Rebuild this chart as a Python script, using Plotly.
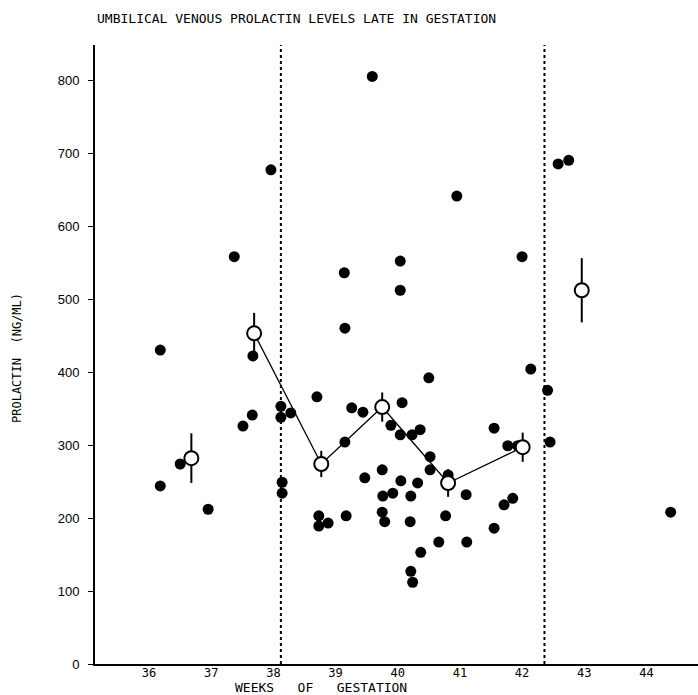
import plotly.graph_objects as go

# Individual umbilical venous prolactin values (weeks, ng/ml)
weeks = [36.18, 36.18, 36.50, 36.95, 37.37, 37.51, 37.66, 37.67, 37.96, 38.12,
         38.12, 38.28, 38.14, 38.14, 38.70, 39.15, 39.26, 39.15, 38.73, 38.73,
         38.88, 39.17, 39.14, 39.59, 40.04, 40.04, 40.95, 40.50, 39.44, 40.07,
         39.89, 40.04, 40.23, 40.36, 40.52, 40.52, 40.81, 39.75, 39.47, 40.05,
         40.32, 39.76, 39.92, 40.21, 41.10, 39.75, 39.79, 40.20, 40.77, 41.55,
         40.66, 41.11, 40.37, 40.21, 40.24, 41.55, 42.14, 42.41, 42.45, 41.77,
         41.93, 41.71, 41.85, 42.58, 42.75, 42.00, 44.39]
prolactin = [430, 244, 274, 212, 558, 326, 341, 422, 677, 353,
             338, 344, 249, 234, 366, 304, 351, 460, 203, 189,
             193, 203, 536, 805, 552, 512, 641, 392, 345, 358,
             327, 314, 314, 321, 284, 266, 259, 266, 255, 251,
             248, 230, 234, 230, 232, 208, 195, 195, 203, 186,
             167, 167, 153, 127, 112, 323, 404, 375, 304, 299,
             299, 218, 227, 685, 690, 558, 208]

# Weekly means with error bars
mean_weeks = [36.68, 37.69, 38.77, 39.75, 40.81, 42.01, 42.96]
mean_values = [282, 453, 274, 352, 248, 297, 512]
mean_err = [34, 28, 18, 20, 19, 20, 44]
# means joined by the line (indices 1..5)
line_idx = [1, 2, 3, 4, 5]

# Dotted boundary lines
boundaries = [38.12, 42.36]

x_ticks = [36, 37, 38, 39, 40, 41, 42, 43, 44]
y_ticks = [0, 100, 200, 300, 400, 500, 600, 700, 800]

MONO = "DejaVu Sans Mono"

fig = go.Figure()

fig.add_trace(go.Scatter(
    x=weeks, y=prolactin, mode="markers",
    marker=dict(size=11, color="black", line=dict(width=0)),
    showlegend=False, hoverinfo="x+y"))

fig.add_trace(go.Scatter(
    x=[mean_weeks[i] for i in line_idx], y=[mean_values[i] for i in line_idx],
    mode="lines", line=dict(color="black", width=1.3),
    showlegend=False, hoverinfo="skip"))

fig.add_trace(go.Scatter(
    x=mean_weeks, y=mean_values, mode="markers",
    marker=dict(size=14, color="white", line=dict(color="black", width=2)),
    error_y=dict(type="data", array=mean_err, visible=True,
                 color="black", thickness=2, width=0),
    showlegend=False))

for b in boundaries:
    fig.add_shape(type="line", xref="x", yref="paper", x0=b, x1=b, y0=0, y1=1,
                  line=dict(color="black", width=2, dash="dot"), layer="below")

fig.update_layout(
    width=698, height=695,
    margin=dict(l=95, r=0, t=45, b=31),
    paper_bgcolor="white", plot_bgcolor="white",
    font=dict(family=MONO, color="black"),
    xaxis=dict(range=[35.13, 44.83], tickvals=x_ticks,
               ticktext=[str(t) for t in x_ticks],
               showgrid=False, zeroline=False, showline=True,
               linecolor="black", linewidth=2, ticks="",
               ticklabelstandoff=-3,
               tickfont=dict(family=MONO, size=12, color="black")),
    yaxis=dict(range=[0, 848], tickvals=y_ticks,
               ticktext=[str(t) for t in y_ticks],
               showgrid=False, zeroline=False, showline=True,
               linecolor="black", linewidth=2, ticks="outside", ticklen=5,
               tickcolor="black", ticklabelstandoff=6,
               tickfont=dict(family="Liberation Sans", size=13, color="black")),
    annotations=[
        dict(text="UMBILICAL VENOUS PROLACTIN LEVELS LATE IN GESTATION",
             xref="paper", yref="paper", x=0, y=1, xanchor="left",
             yanchor="middle", yshift=27, showarrow=False,
             font=dict(family=MONO, size=13, color="black")),
        dict(text="WEEKS   OF   GESTATION", xref="paper", yref="paper",
             x=(321 - 95) / 603, y=0, yshift=-23, xanchor="center",
             yanchor="middle", showarrow=False,
             font=dict(family=MONO, size=13, color="black")),
        dict(text="PROLACTIN  (NG/ML)", xref="paper", yref="paper",
             x=0, xshift=-78, y=(664 - 358) / 619, xanchor="center",
             yanchor="middle", textangle=-90, showarrow=False,
             font=dict(family=MONO, size=12, color="black")),
    ],
)

fig.write_html(
    "out.html",
    config={"displayModeBar": False},
    post_script="document.body.style.margin='0';document.body.style.overflow='hidden';",
)
